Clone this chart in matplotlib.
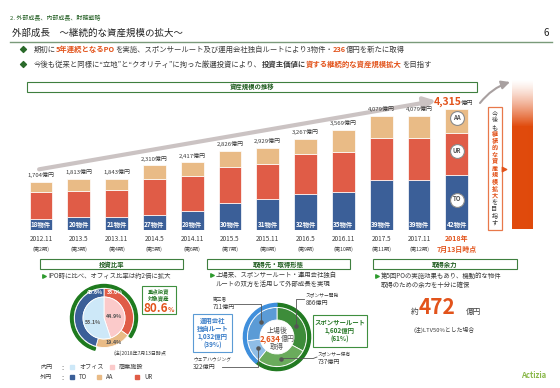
import matplotlib
matplotlib.use('Agg')
import matplotlib.pyplot as plt
from matplotlib.patches import Rectangle, Wedge
import numpy as np

plt.rcParams['font.family'] = ['Noto Sans CJK JP', 'DejaVu Sans']

# 資産規模の推移 (億円)
dates = ['2012.11', '2013.5', '2013.11', '2014.5', '2014.11', '2015.5',
         '2015.11', '2016.5', '2016.11', '2017.5', '2017.11', '2018年']
periods = ['(第2期)', '(第3期)', '(第4期)', '(第5期)', '(第6期)', '(第7期)',
           '(第8期)', '(第9期)', '(第10期)', '(第11期)', '(第12期)', '7月13日時点']
counts = [18, 20, 21, 27, 28, 30, 31, 32, 35, 39, 39, 42]
totals = [1704, 1813, 1843, 2310, 2417, 2826, 2929, 3267, 3569, 4079, 4079, 4315]
to_vals = [410, 480, 480, 550, 670, 960, 1100, 1300, 1370, 1780, 1780, 1970]
ur_vals = [934, 923, 953, 1280, 1267, 1291, 1279, 1417, 1429, 1509, 1509, 1505]
aa_vals = [360, 410, 410, 480, 480, 575, 550, 550, 770, 790, 790, 840]

# 投資比率 (%)
outer_labels = ['UR', 'AA', 'TO']
outer_vals = [35.0, 19.4, 45.6]
inner_labels = ['商業施設', 'オフィス']
inner_vals = [44.9, 55.1]

# 取得先・取得形態 (億円)
route_names = ['スポンサー開発', 'スポンサー保有', 'ウェアハウジング', '第三者']
route_vals = [866, 737, 322, 711]
route_total = 2634
sponsor_total, own_total = 1602, 1032
capacity = 472

TO_C, UR_C, AA_C = '#3b5f98', '#e05c47', '#e9bb86'
ORANGE = '#e2531b'
DGREEN = '#1f5c1f'
BOXG = '#3f7f3f'
TXT = '#3c3c3c'

W, H = 560, 388
fig = plt.figure(figsize=(W / 100, H / 100), dpi=100)


def px_axes(x0, y0, x1, y1):
    return fig.add_axes([x0 / W, 1 - y1 / H, (x1 - x0) / W, (y1 - y0) / H])


ov = px_axes(0, 0, W, H)
ov.axis('off')
ov.set_zorder(5)
r = fig.canvas.get_renderer()


def rich(x, y, parts, ha='left'):
    texts, widths = [], []
    for s, sz, c, w in parts:
        t = ov.text(0, y, s, fontsize=sz, color=c, fontweight=w, va='baseline', ha='left')
        widths.append(t.get_window_extent(renderer=r).width)
        texts.append(t)
    cx = x - sum(widths) / 2 if ha == 'center' else x
    for t, wd in zip(texts, widths):
        t.set_x(cx)
        cx += wd


def header(x0, x1, y0, y1, label):
    ov.add_patch(Rectangle((x0, y0), x1 - x0, y1 - y0, fill=False, ec=BOXG, lw=0.8))
    ov.text((x0 + x1) / 2, (y0 + y1) / 2, label, ha='center', va='center',
            fontsize=4.6, fontweight='bold', color=DGREEN)


# ---- top area
ov.text(10, 18, '2. 外部成長、内部成長、財務戦略', fontsize=4.3, color=DGREEN, va='center')
ov.text(12, 33, '外部成長　～継続的な資産規模の拡大～', fontsize=6.8, color='#222222', va='center')
ov.text(543, 33, '6', fontsize=7, color='#222222', va='center')
ov.plot([10, 552], [42, 42], color='#7a9a7a', lw=1)
for yy in [49, 64]:
    ov.scatter([23], [yy], marker='D', s=9, color='#2a6a2a')
rich(34, 51.8, [('期初に', 5.3, TXT, 'normal'), ('5年連続となるPO', 5.3, ORANGE, 'bold'),
                ('を実施、スポンサールート及び運用会社独自ルートにより3物件・', 5.3, TXT, 'normal'),
                ('236', 5.3, ORANGE, 'bold'), ('億円を新たに取得', 5.3, TXT, 'normal')])
rich(34, 66.8, [('今後も従来と同様に“立地”と“クオリティ”に拘った厳選投資により、', 5.3, TXT, 'normal'),
                ('投資主価値に', 5.3, TXT, 'bold'), ('資する継続的な資産規模拡大', 5.3, ORANGE, 'bold'),
                ('を目指す', 5.3, TXT, 'normal')])

# ---- bar chart
header(27, 477, 82, 92, '資産規模の推移')
ax = px_axes(22.1, 90, 475.7, 230)
scale = 35.8
ax.set_xlim(-0.5, 11.5)
ax.set_ylim(0, 140 * scale)
ax.axis('off')
x = np.arange(len(dates))
to_a, ur_a, aa_a = np.array(to_vals), np.array(ur_vals), np.array(aa_vals)
ax.bar(x, to_a, 0.6, color=TO_C, edgecolor='white', lw=0.5)
ax.bar(x, ur_a, 0.6, bottom=to_a, color=UR_C, edgecolor='white', lw=0.5)
ax.bar(x, aa_a, 0.6, bottom=to_a + ur_a, color=AA_C, edgecolor='white', lw=0.5)
ax.annotate('', xy=(10.45, 4629), xytext=(-0.05, 2173),
            arrowprops=dict(arrowstyle='-|>,head_width=0.35,head_length=0.7', lw=3,
                            color='#cbc3c3', shrinkA=0, shrinkB=0))
for i in range(len(dates)):
    ax.text(i, 6 * scale, f'{counts[i]}物件', ha='center', va='center', color='white',
            fontsize=4.6, fontweight='bold')
    last = i == len(dates) - 1
    if not last:
        ax.text(i, totals[i] + 250, f'{totals[i]:,}億円', ha='center', va='center',
                fontsize=4.3, color=TXT)
    ax.text(i, -9 * scale, dates[i], ha='center', va='center', clip_on=False,
            fontsize=4.6 if not last else 5, color=ORANGE if last else TXT,
            fontweight='bold' if last else 'normal')
    ax.text(i, -19 * scale, periods[i], ha='center', va='center', clip_on=False,
            fontsize=3.8 if not last else 5, color=ORANGE if last else TXT,
            fontweight='bold' if last else 'normal')
ax.text(11.12, totals[-1] + 170, f'{totals[-1]:,}', ha='right', va='baseline',
        fontsize=7.5, fontweight='bold', color=ORANGE)
ax.text(11.12, totals[-1] + 170, '億円', ha='left', va='baseline', fontsize=4.5, color=TXT)
# badges in the latest bar
mids = [to_vals[-1] / 2, to_vals[-1] + ur_vals[-1] / 2, to_vals[-1] + ur_vals[-1] + aa_vals[-1] / 2]
for m, lab in zip(mids, ['TO', 'UR', 'AA']):
    ax.scatter([11], [m + 100], s=100, color='white', edgecolor='#8a8a8a', lw=0.8, zorder=4)
    ax.text(11, m + 140, lab, ha='center', va='center', fontsize=4.3, fontweight='bold',
            color='#555555', zorder=5)

# right side: arrow, vertical message, gradient bar
ov.annotate('', xy=(510, 82), xytext=(480, 103),
            arrowprops=dict(arrowstyle='-|>,head_width=0.25,head_length=0.5', lw=1.5,
                            color='#a8a0a0', connectionstyle='arc3,rad=-0.15',
                            shrinkA=0, shrinkB=0))
ov.add_patch(Rectangle((487.5, 107), 14, 123, fill=False, ec='#e8784a', lw=0.9))
msg = '今後も継続的な資産規模拡大を目指す'
for k, ch in enumerate(msg):
    hot = 3 <= k < 13
    ov.text(494.5, 113.5 + k * 6.8, ch, ha='center', va='center', fontsize=4.4,
            color=ORANGE if hot else TXT, fontweight='bold' if hot else 'normal')
ov.scatter([504], [169], marker='>', s=10, color=ORANGE)
grad = np.ones((150, 1, 4))
grad[:, 0, :3] = matplotlib.colors.to_rgb('#e04a0c')
alpha = np.clip(np.arange(150) / 47.0, 0, 1) ** 1.3
grad[:, 0, 3] = alpha
ov.imshow(grad, extent=[512, 533, 229, 79], aspect='auto', interpolation='bilinear', zorder=1)

# ---- panel 1: 投資比率
header(40, 183, 259, 269, '投資比率')
ov.scatter([43.5], [276], marker='>', s=6, color='#2e9a2e')
ov.text(48, 276, 'IPO時に比べ、オフィス比率は約2倍に拡大', fontsize=4.6, color=TXT, va='center')
pa = px_axes(69, 283, 139, 353)
pa.set_aspect('equal')
pa.axis('off')
pa.pie(outer_vals, radius=29.5, startangle=90, counterclock=False,
       colors=[UR_C, AA_C, TO_C], wedgeprops=dict(width=8.5, edgecolor='white', lw=0.6))
pa.pie(inner_vals, radius=21, startangle=90, counterclock=False,
       colors=['#fbcaca', '#cde8f8'], wedgeprops=dict(edgecolor='white', lw=0.6))
pa.set_xlim(-35, 35)
pa.set_ylim(-35, 35)
core = outer_vals[0] + outer_vals[2]
pa.add_patch(Wedge((0, 0), 33.5, 90 - 3.6 * outer_vals[0], 90 + 3.6 * outer_vals[2],
                   width=2.6, color='#1e7a1e'))
pa.text(-9, 25, f'{outer_vals[2]:.1f}%', ha='center', va='center', fontsize=3.8,
        fontweight='bold', color='white')
pa.text(11, 25, f'{outer_vals[0]:.1f}%', ha='center', va='center', fontsize=3.8,
        fontweight='bold', color='white')
pa.text(10, -25, f'{outer_vals[1]:.1f}%', ha='center', va='center', fontsize=3.8,
        fontweight='bold', color='#555555')
pa.text(-11, -4, f'{inner_vals[1]:.1f}%', ha='center', va='center', fontsize=3.8,
        fontweight='bold', color='#555555')
pa.text(10, 1, f'{inner_vals[0]:.1f}%', ha='center', va='center', fontsize=3.8,
        fontweight='bold', color='#555555')
ov.add_patch(Rectangle((142, 286), 34, 28, fc='white', ec='#3f8f3f', lw=0.8))
ov.text(159, 291.5, '重点投資', ha='center', va='center', fontsize=3.9, fontweight='bold', color='#2a7a2a')
ov.text(159, 298.5, '対象資産', ha='center', va='center', fontsize=3.9, fontweight='bold', color='#2a7a2a')
rich(159, 311.5, [(f'{core:.1f}', 8.5, ORANGE, 'bold'), ('%', 4.8, ORANGE, 'bold')], ha='center')
ov.text(113, 353, '(注)2018年7月13日時点', fontsize=3.6, color=TXT, va='center')
leg_rows = [(367, '内円', [(72, '#cde8f8', 'オフィス'), (112, '#fbcaca', '商業施設')]),
            (377, '外円', [(72, TO_C, 'TO'), (99, AA_C, 'AA'), (137, UR_C, 'UR')])]
for yy, name, items in leg_rows:
    ov.text(40, yy, name, fontsize=4.4, color=TXT, va='center')
    ov.text(59, yy, '：', fontsize=4.4, color=TXT, va='center')
    for xx, c, lab in items:
        ov.add_patch(Rectangle((xx - 2, yy - 2), 4, 4, color=c))
        ov.text(xx + 7, yy, lab, fontsize=4.4, color=TXT, va='center')

# ---- panel 2: 取得先・取得形態
header(207, 350, 259, 269, '取得先・取得形態')
ov.scatter([212], [275], marker='>', s=6, color='#2e9a2e')
ov.text(216, 275, '上場来、スポンサールート・運用会社独自', fontsize=4.6, color=TXT, va='center')
ov.text(216, 283.5, 'ルートの双方を活用して外部成長を実現', fontsize=4.6, color=TXT, va='center')
cx2, cy2 = 277, 337
pb = px_axes(cx2 - 35, cy2 - 35, cx2 + 35, cy2 + 35)
pb.set_aspect('equal')
pb.axis('off')
pb.pie(route_vals, radius=29.5, startangle=90, counterclock=False,
       colors=['#3d8c3a', '#6aab5c', '#8fbde6', '#5b9bd6'],
       wedgeprops=dict(width=12.5, edgecolor='white', lw=0.6))
pb.set_xlim(-35, 35)
pb.set_ylim(-35, 35)
sp_share = sponsor_total / route_total
pb.add_patch(Wedge((0, 0), 33.6, 90 - 360 * sp_share, 90, width=2.8, color='#227a22'))
pb.add_patch(Wedge((0, 0), 33.6, 90, 450 - 360 * sp_share, width=2.8, color='#3f8fdc'))
ov.text(cx2, 330.5, '上場後', ha='center', va='center', fontsize=5, color='#555555')
rich(cx2, 341, [(f'{route_total:,}', 5.6, ORANGE, 'bold'), ('億円', 5, '#555555', 'normal')], ha='center')
ov.text(cx2, 347.5, '取得', ha='center', va='center', fontsize=5, color='#555555')
# callout dots from wedge mid-angles
cum = np.cumsum([0] + route_vals) / sum(route_vals)
dots = []
for k in range(len(route_vals)):
    ang = np.deg2rad(90 - 360 * (cum[k] + cum[k + 1]) / 2)
    dots.append((cx2 + 22 * np.cos(ang), cy2 - 22 * np.sin(ang)))
for dx, dy in dots:
    ov.scatter([dx], [dy], s=5, color='#555555', zorder=6)
lc = '#555555'
# スポンサー開発
ov.plot([dots[0][0], dots[0][0], 304], [dots[0][1], 299, 299], color=lc, lw=0.6, zorder=6)
ov.text(306, 295, route_names[0], fontsize=3.4, color=TXT, va='center')
ov.text(306, 302.5, f'{route_vals[0]}億円', fontsize=4.4, color=TXT, va='center')
# スポンサー保有
ov.plot([dots[1][0], 313, 317], [dots[1][1], dots[1][1], 357], color=lc, lw=0.6, zorder=6)
ov.text(318, 354, route_names[1], fontsize=3.4, color=TXT, va='center')
ov.text(318, 362, f'{route_vals[1]}億円', fontsize=4.4, color=TXT, va='center')
# ウェアハウジング
ov.plot([222, dots[2][0], dots[2][0]], [366.5, 366.5, dots[2][1]], color=lc, lw=0.6, zorder=6)
ov.text(193, 358.5, route_names[2], fontsize=3.4, color=TXT, va='center')
ov.text(193, 366.5, f'{route_vals[2]}億円', fontsize=4.4, color=TXT, va='center')
# 第三者
ov.plot([234, dots[3][0], dots[3][0]], [303.5, 303.5, dots[3][1]], color=lc, lw=0.6, zorder=6)
ov.text(213, 299, route_names[3], fontsize=3.4, color=TXT, va='center')
ov.text(213, 306.5, f'{route_vals[3]}億円', fontsize=4.4, color=TXT, va='center')
# route boxes
ov.add_patch(Rectangle((193, 314), 39, 38, fc='white', ec='#5b9bd5', lw=0.8, zorder=6))
for yy, s in zip([320, 328.3, 336.8, 345.5],
                 ['運用会社', '独自ルート', f'{own_total:,}億円', f'({100 - round(100 * sp_share)}%)']):
    ov.text(212.5, yy, s, ha='center', va='center', fontsize=4.6, fontweight='bold',
            color='#3a7dc8', zorder=7)
ov.add_patch(Rectangle((313, 315), 54, 32, fc='white', ec='#3f8f3f', lw=0.8, zorder=6))
for yy, s in zip([322, 330.5, 339], ['スポンサールート', f'{sponsor_total:,}億円', f'({round(100 * sp_share)}%)']):
    ov.text(340, yy, s, ha='center', va='center', fontsize=4.6, fontweight='bold',
            color='#2a7a2a', zorder=7)

# ---- panel 3: 取得余力
header(373, 517, 259, 269, '取得余力')
ov.scatter([377], [276], marker='>', s=6, color='#2e9a2e')
ov.text(381, 276, '第5回POの実施効果もあり、機動的な物件', fontsize=4.6, color=TXT, va='center')
ov.text(381, 284.5, '取得のための余力を十分に確保', fontsize=4.6, color=TXT, va='center')
ov.text(418, 314, '約', ha='right', va='baseline', fontsize=5.5, color=TXT)
ov.text(419, 314, f'{capacity}', ha='left', va='baseline', fontsize=15, fontweight='bold', color=ORANGE)
ov.text(466, 314, '億円', ha='left', va='baseline', fontsize=5.5, color=TXT)
ov.text(414, 329.5, '(注)LTV50%とした場合', fontsize=4.2, color=TXT, va='center')
ov.text(534, 375, 'Actizia', ha='center', va='center', fontsize=5.5, style='italic',
        fontweight='bold', color='#8ab84a')

ov.set_xlim(0, W)
ov.set_ylim(H, 0)
fig.savefig('out.png', dpi=100)
